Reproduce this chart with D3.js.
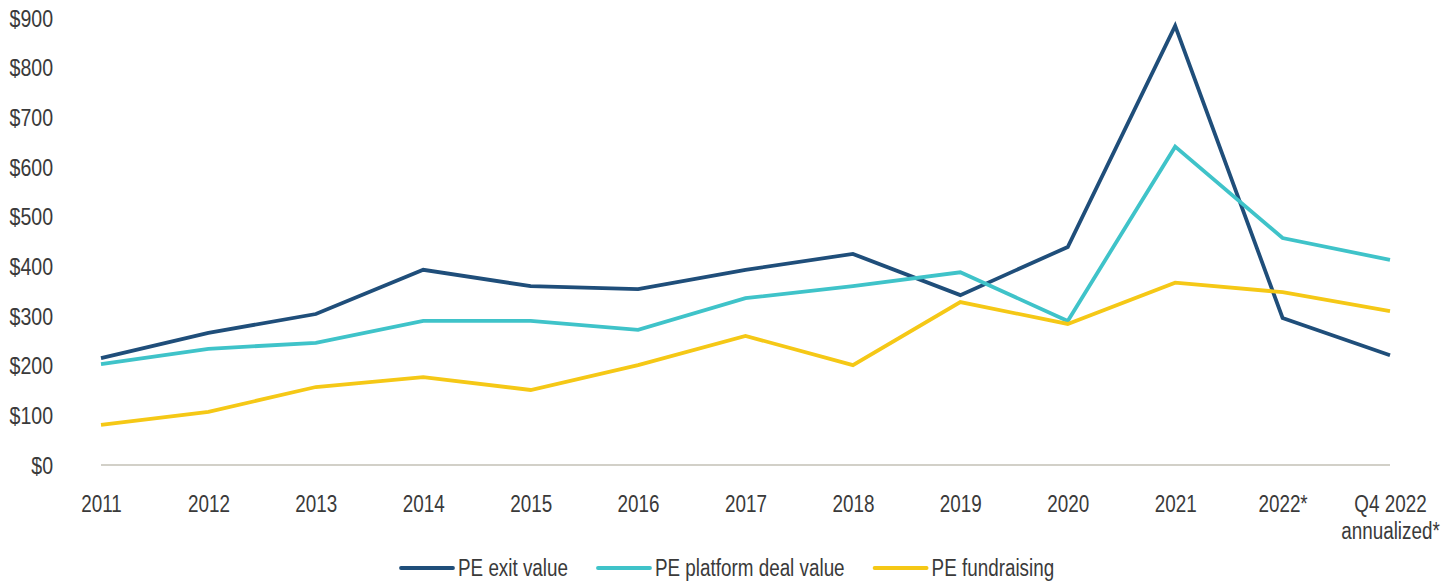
<!DOCTYPE html>
<html><head><meta charset="utf-8">
<script src="https://cdn.jsdelivr.net/npm/d3@7"></script>
<style>
body{margin:0;background:#fff;}
text{font-family:"Liberation Sans",Arial,sans-serif;fill:#3a3a3a;}
</style></head>
<body><svg id="c" width="1456" height="582"></svg>
<script>
const categories = ["2011","2012","2013","2014","2015","2016","2017","2018","2019","2020","2021","2022*","Q4 2022|annualized*"];
const exitValue = [215,266,304,393,360,354,393,425,342,439,884,296,221];
const platformDealValue = [203,234,246,290,290,272,336,360,388,290,641,457,413];
const fundraising = [81,107,157,177,151,201,260,201,328,284,367,348,310];
const yTicks = [0,100,200,300,400,500,600,700,800,900];
const seriesNames = ["PE exit value","PE platform deal value","PE fundraising"];
const seriesColors = ["#1f4e7a","#3fc3c9","#f5c816"];

const FS = 23, SX = 0.82;
const svg = d3.select("#c");
const x = d3.scalePoint().domain(categories).range([101,1390]);
const y = d3.scaleLinear().domain([0,900]).range([465,18]);

// baseline
svg.append("line").attr("x1",101).attr("x2",1390).attr("y1",y(0)).attr("y2",y(0))
  .attr("stroke","#d2d0c8").attr("stroke-width",2);

// y axis labels
const yAxis = d3.axisLeft(y).tickValues(yTicks).tickFormat(d=>"$"+d).tickSize(0).tickPadding(0);
const ga = svg.append("g").attr("transform","translate(53,0)").call(yAxis);
ga.select(".domain").remove();
ga.selectAll("text").attr("font-size",FS).style("font-family",'"Liberation Sans",sans-serif')
  .attr("fill","#3a3a3a").attr("dy","0.36em").attr("transform",`scale(0.85,1)`);

// x axis labels
const xAxis = d3.axisBottom(x).tickSize(0).tickPadding(0).tickFormat(()=> "");
const gx = svg.append("g").call(xAxis);
gx.select(".domain").remove();
gx.selectAll(".tick text").remove();
gx.selectAll(".tick").each(function(d){
  const parts = d.split("|");
  const t = d3.select(this).append("text").attr("text-anchor","middle").attr("font-size",FS)
    .attr("transform",`scale(${SX},1)`);
  parts.forEach((p,i)=>{
    t.append("tspan").attr("x",0).attr("y",512+i*27).text(p);
  });
});

const data = [exitValue, platformDealValue, fundraising];
const line = d3.line().x((d,i)=>x(categories[i])).y(d=>y(d));
data.forEach((s,k)=>{
  svg.append("path").attr("d",line(s)).attr("fill","none")
    .attr("stroke",seriesColors[k]).attr("stroke-width",3.8).attr("stroke-linejoin","miter");
});

// legend
let lx = 401;
seriesNames.forEach((n,k)=>{
  const g = svg.append("g").attr("transform",`translate(${lx},568)`);
  g.append("line").attr("x1",0).attr("x2",52).attr("y1",0).attr("y2",0)
    .attr("stroke",seriesColors[k]).attr("stroke-width",3.8).attr("stroke-linecap","round");
  const tg = g.append("g").attr("transform",`translate(57,0) scale(${SX},1)`);
  const t = tg.append("text").attr("x",0).attr("y",0).attr("dy","0.36em").attr("font-size",FS).text(n);
  const w = t.node().getComputedTextLength()*SX;
  lx += 57 + w + 30;
});
</script></body></html>
